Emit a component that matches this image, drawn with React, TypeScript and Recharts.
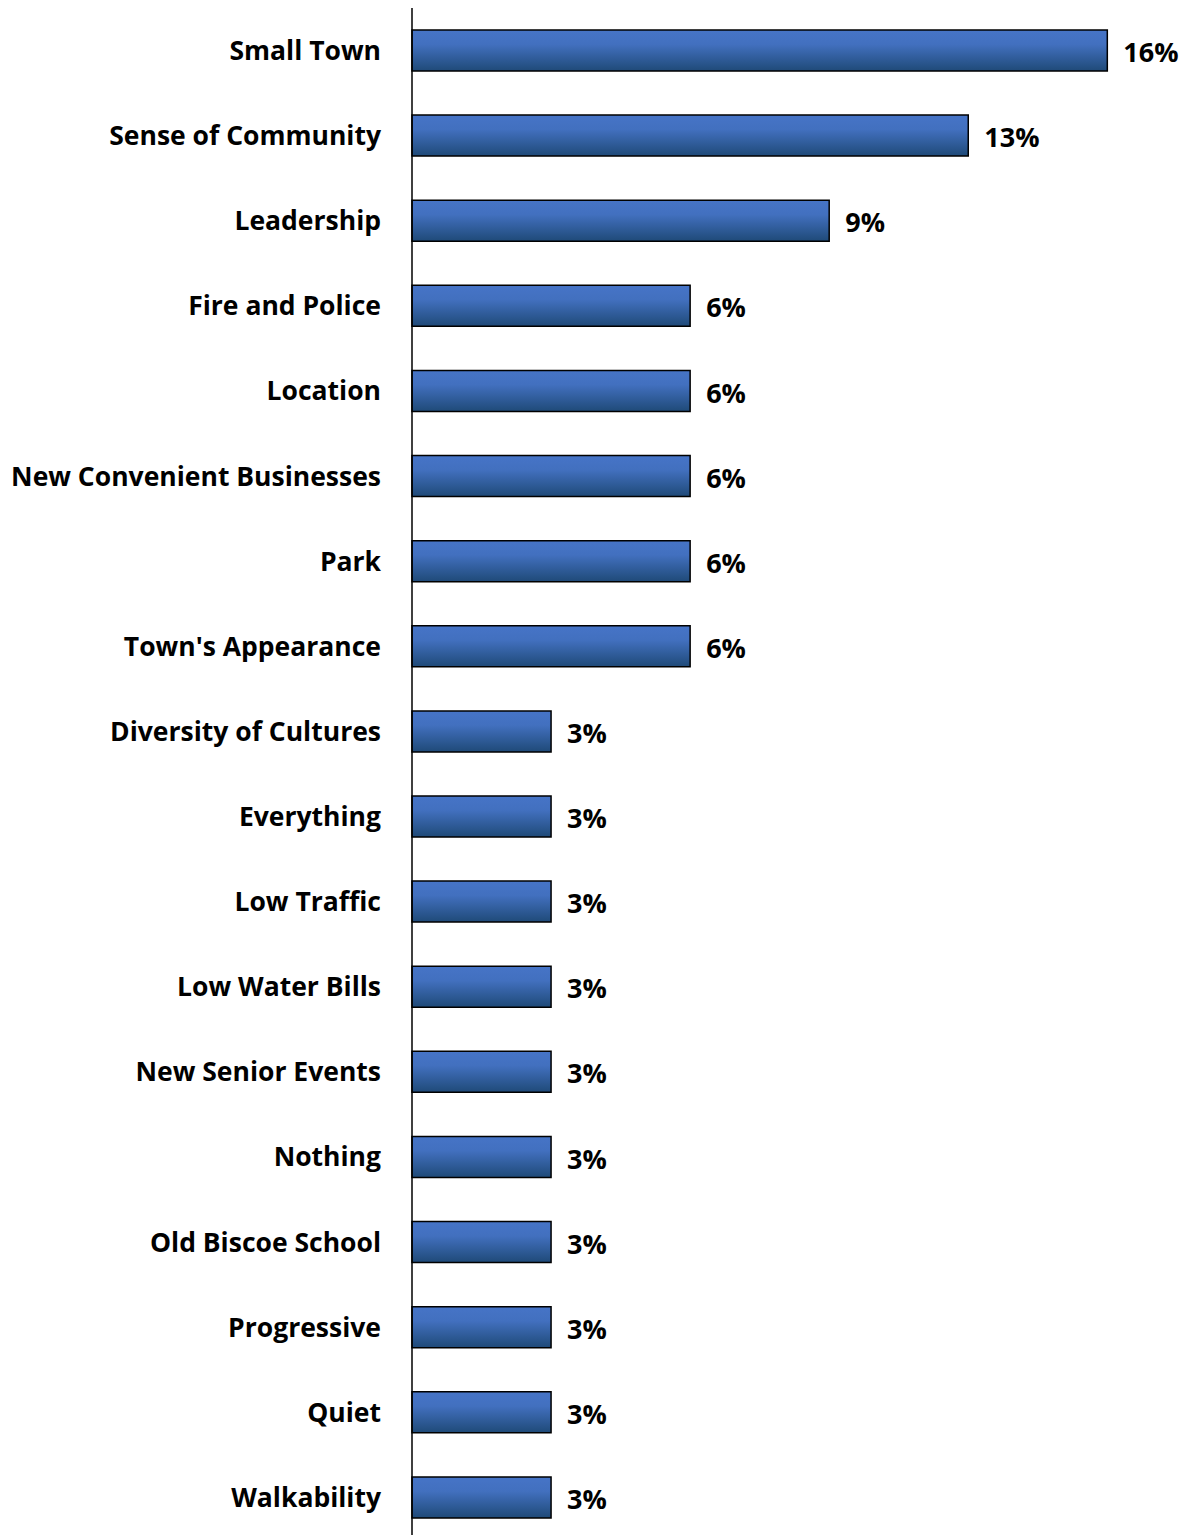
import React from 'react';
import { BarChart, Bar, XAxis, YAxis, LabelList } from 'recharts';

const categories = [
  'Small Town',
  'Sense of Community',
  'Leadership',
  'Fire and Police',
  'Location',
  'New Convenient Businesses',
  'Park',
  "Town's Appearance",
  'Diversity of Cultures',
  'Everything',
  'Low Traffic',
  'Low Water Bills',
  'New Senior Events',
  'Nothing',
  'Old Biscoe School',
  'Progressive',
  'Quiet',
  'Walkability',
];

// share of responses (%)
const shares = [
  15.625, 12.5, 9.375, 6.25, 6.25, 6.25, 6.25, 6.25,
  3.125, 3.125, 3.125, 3.125, 3.125, 3.125, 3.125, 3.125, 3.125, 3.125,
];

const shareLabels = [
  '16%', '13%', '9%', '6%', '6%', '6%', '6%', '6%',
  '3%', '3%', '3%', '3%', '3%', '3%', '3%', '3%', '3%', '3%',
];

const chartData = categories.map((name, i) => ({
  name,
  share: shares[i],
  label: shareLabels[i],
}));

const FONT = '"Open Sans", Lato, sans-serif';

export default function App() {
  return (
    <div style={{ position: 'absolute', left: 0, top: 0, fontFamily: FONT }}>
      <BarChart
        width={1187}
        height={1540}
        data={chartData}
        layout="vertical"
        margin={{ top: 8, right: 63, left: 0, bottom: 0 }}
        barCategoryGap={22}
        style={{ overflow: 'visible' }}
      >
        <defs>
          <linearGradient id="barGrad" x1="0" y1="0" x2="0" y2="1">
            <stop offset="0%" stopColor="#4674C7" />
            <stop offset="35%" stopColor="#4270BF" />
            <stop offset="100%" stopColor="#1F4A78" />
          </linearGradient>
        </defs>
        <XAxis type="number" domain={[0, 16]} hide />
        <YAxis
          type="category"
          dataKey="name"
          width={412}
          tickLine={false}
          tickSize={0}
          tickMargin={31}
          axisLine={{ stroke: '#000', strokeWidth: 1.5 }}
          tick={{ fill: '#000', fontSize: 26.5, fontWeight: 700, fontFamily: FONT }}
          interval={0}
        />
        <Bar
          dataKey="share"
          fill="url(#barGrad)"
          stroke="#000"
          strokeWidth={1.5}
          isAnimationActive={false}
        >
          <LabelList
            dataKey="label"
            position="right"
            offset={16}
            dy={2}
            style={{ fill: '#000', fontSize: 27, fontWeight: 700, fontFamily: FONT }}
          />
        </Bar>
      </BarChart>
    </div>
  );
}
